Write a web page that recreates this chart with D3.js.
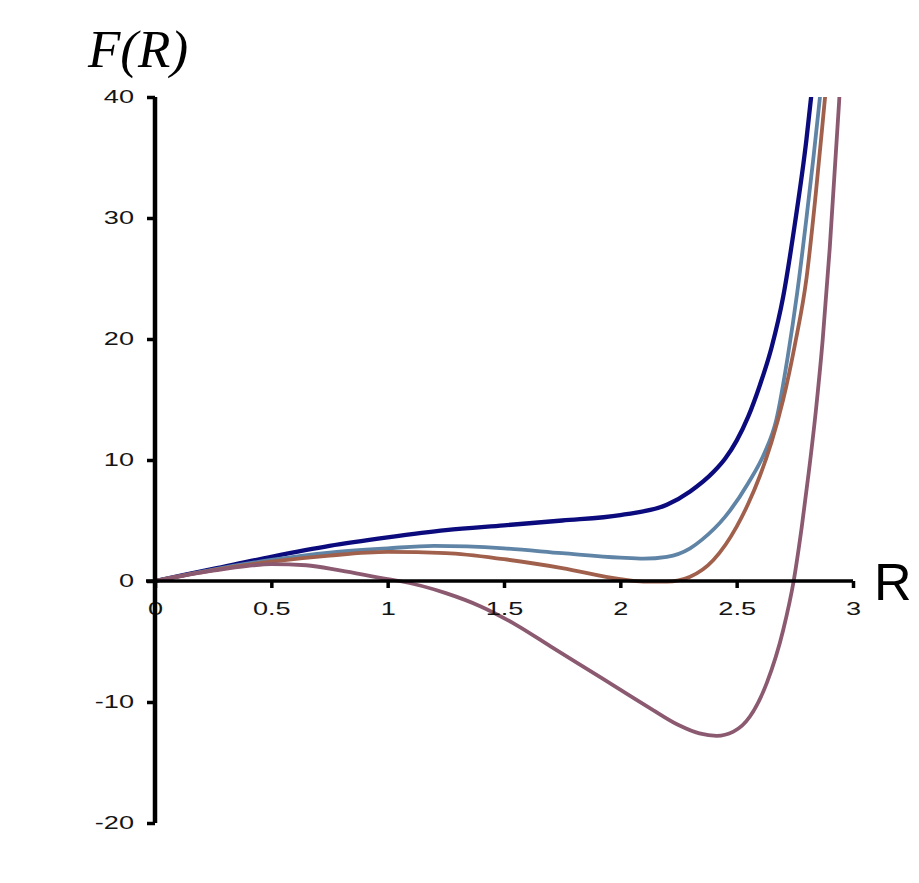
<!DOCTYPE html>
<html>
<head>
<meta charset="utf-8">
<script src="https://cdn.jsdelivr.net/npm/d3@7"></script>
<style>
html,body{margin:0;padding:0;background:#fff;}
svg{display:block;}
</style>
</head>
<body>
<svg id="chart" width="919" height="883"></svg>
<script>
// ---- data ----
const xTicks = [0, 0.5, 1, 1.5, 2, 2.5, 3];
const yTicks = [-20, -10, 0, 10, 20, 30, 40];
const seriesNames = ["navy", "steel", "brown", "mauve"];
const seriesColors = ["#0b0b7e", "#5f84a6", "#a0604c", "#8c5a70"];

const navyR = [0, 0.25, 0.5, 0.75, 1.0, 1.25, 1.5, 1.75, 2.0, 2.2, 2.3, 2.4, 2.45, 2.5, 2.55, 2.6, 2.65, 2.7, 2.75, 2.8, 2.82, 2.84];
const navyF = [0, 1.0, 2.0, 2.9, 3.6, 4.2, 4.6, 5.0, 5.45, 6.3, 7.4, 9.0, 10.1, 11.6, 13.6, 16.2, 19.3, 23.5, 29.5, 36.5, 40, 43];

const steelR = [0, 0.25, 0.5, 0.75, 1.0, 1.2, 1.5, 1.75, 2.0, 2.1, 2.2, 2.3, 2.35, 2.45, 2.55, 2.62, 2.67, 2.72, 2.76, 2.8, 2.83, 2.858, 2.88];
const steelF = [0, 0.95, 1.74, 2.35, 2.7, 2.9, 2.7, 2.3, 1.93, 1.85, 2.0, 2.7, 3.4, 5.3, 8.1, 10.6, 13.3, 18.6, 23.8, 30, 35, 40, 44];

const brownR = [0, 0.25, 0.5, 0.75, 1.0, 1.25, 1.5, 1.75, 2.0, 2.1, 2.2, 2.3, 2.4, 2.5, 2.55, 2.6, 2.65, 2.7, 2.75, 2.8, 2.84, 2.88, 2.9];
const brownF = [0, 0.9, 1.6, 2.1, 2.4, 2.3, 1.8, 1.07, 0.15, -0.05, -0.05, 0.36, 1.74, 4.5, 6.4, 8.7, 11.5, 15.0, 19.5, 25.0, 32.0, 40, 44];

const mauveR = [0, 0.25, 0.4, 0.5, 0.65, 0.8, 1.0, 1.05, 1.25, 1.4, 1.55, 1.7, 1.91, 2.127, 2.25, 2.34, 2.414, 2.486, 2.557, 2.63, 2.70, 2.745, 2.78, 2.81, 2.84, 2.87, 2.90, 2.94, 2.95];
const mauveF = [0, 0.85, 1.25, 1.4, 1.3, 0.85, 0.15, 0, -1.0, -2.1, -3.6, -5.4, -7.9, -10.5, -11.9, -12.6, -12.8, -12.45, -11.2, -8.4, -4.05, 0, 4.5, 9.0, 14.0, 20.0, 27.5, 39.5, 43];

const seriesR = [navyR, steelR, brownR, mauveR];
const seriesF = [navyF, steelF, brownF, mauveF];

// ---- drawing ----
const svg = d3.select("#chart");
svg.append("rect").attr("width", 919).attr("height", 883).attr("fill", "#fff");

const x = d3.scaleLinear().domain([0, 3]).range([155, 853]);
const y = d3.scaleLinear().domain([-20, 40]).range([823, 97]);

svg.append("defs").append("clipPath").attr("id", "plotclip")
  .append("rect").attr("x", 140).attr("y", y(40)).attr("width", 760).attr("height", y(-20) - y(40) + 5);

const line = d3.line().x(d => x(d[0])).y(d => y(d[1])).curve(d3.curveMonotoneX);

const g = svg.append("g").attr("clip-path", "url(#plotclip)");
seriesNames.forEach((name, i) => {
  const pts = seriesR[i].map((r, j) => [r, seriesF[i][j]]);
  g.append("path").datum(pts)
    .attr("d", line)
    .attr("fill", "none")
    .attr("stroke", seriesColors[i])
    .attr("stroke-width", i === 0 ? 4.3 : 3.8)
    .attr("stroke-linejoin", "round");
});

const SX = 1.55; // horizontal stretch of tick labels in the reference

// x axis (ticks below)
const xAxis = d3.axisBottom(x).tickValues(xTicks).tickSize(7).tickPadding(15)
  .tickFormat(d => String(d));
const gx = svg.append("g").attr("transform", `translate(0,${y(0)})`).call(xAxis);
gx.select(".domain").attr("d", `M146,0H${x(3)}`).attr("stroke", "#000").attr("stroke-width", 3.5);
gx.selectAll(".tick line").attr("stroke", "#000").attr("stroke-width", 3.5);
gx.selectAll(".tick text").attr("font-family", "Liberation Sans, Arial, sans-serif")
  .attr("font-size", 17.5).attr("fill", "#151515")
  .attr("transform", `scale(${SX},1)`);

// y axis (ticks left)
const yAxis = d3.axisLeft(y).tickValues(yTicks).tickSize(8).tickPadding(13)
  .tickFormat(d => String(d));
const gy = svg.append("g").attr("transform", `translate(${x(0)},0)`).call(yAxis);
gy.select(".domain").attr("d", `M0,${y(40)}V${y(-20)}`).attr("stroke", "#000").attr("stroke-width", 4.5);
gy.selectAll(".tick line").attr("stroke", "#000").attr("stroke-width", 3.5);
gy.selectAll(".tick text").attr("font-family", "Liberation Sans, Arial, sans-serif")
  .attr("font-size", 17.5).attr("fill", "#151515")
  .attr("x", -21 / SX)
  .attr("transform", `scale(${SX},1)`);

// axis titles
svg.append("text").attr("x", 88).attr("y", 67)
  .attr("font-family", "Liberation Serif, Times New Roman, serif")
  .attr("font-style", "italic").attr("font-size", 53).attr("fill", "#000")
  .text("F(R)");
svg.append("text").attr("x", 874).attr("y", 600)
  .attr("font-family", "Liberation Sans, Arial, sans-serif")
  .attr("font-size", 52).attr("fill", "#000")
  .text("R");
</script>
</body>
</html>
